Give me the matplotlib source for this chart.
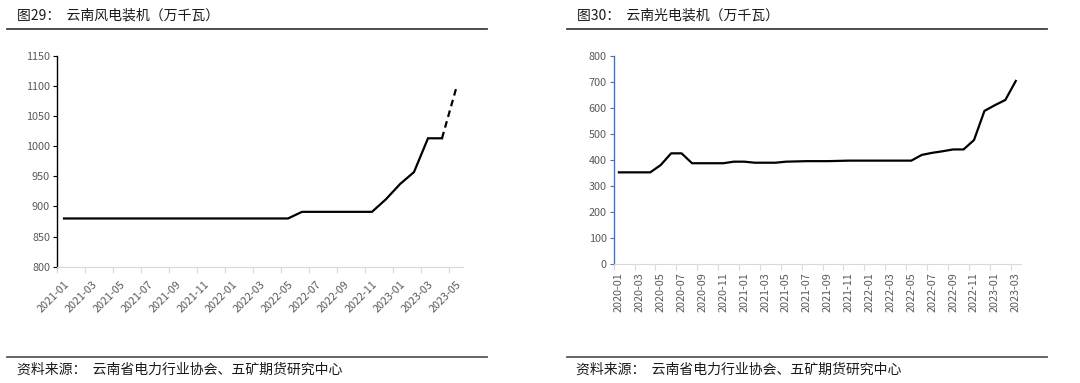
import matplotlib
matplotlib.use("Agg")
import matplotlib.pyplot as plt
from matplotlib.lines import Line2D

plt.rcParams['font.family'] = ['Noto Sans CJK SC', 'DejaVu Sans']

# ---------------- data ----------------
wind_months = [f"{y}-{m:02d}" for y in (2021, 2022, 2023) for m in range(1, 13)][:29]
wind_values = [880, 880, 880, 880, 880, 880, 880, 880, 880, 880, 880, 880,
               880, 880, 880, 880, 880, 891, 891, 891, 891, 891, 891, 912,
               937, 957, 1013, 1013, 1095]
wind_dashed_from = 27  # last segment is dashed (forecast)

solar_months = [f"{y}-{m:02d}" for y in (2020, 2021, 2022, 2023) for m in range(1, 13)][:39]
solar_values = [352, 352, 352, 352, 380, 425, 425, 387, 387, 387, 387, 393,
                393, 389, 389, 389, 393, 394, 395, 395, 395, 396, 397, 397,
                397, 397, 397, 397, 397, 419, 427, 433, 440, 440, 476, 588,
                610, 630, 703]

wind_title = "图29：  云南风电装机（万千瓦）"
solar_title = "图30：  云南光电装机（万千瓦）"
source_text = "资料来源：  云南省电力行业协会、五矿期货研究中心"

W, H = 1080, 383
fig = plt.figure(figsize=(W / 100, H / 100), dpi=100)

def box(x0, y0, x1, y1):
    return [x0 / W, 1 - y1 / H, (x1 - x0) / W, (y1 - y0) / H]

def hline(x0, x1, y, color, lw):
    fig.add_artist(Line2D([x0 / W, x1 / W], [1 - y / H, 1 - y / H],
                          color=color, lw=lw, transform=fig.transFigure))

tick_color = '#595959'
grey_axis = '#D9D9D9'
tick_fs = 7.8

def style_axes(ax, n, labels, ycolor, rotation):
    ax.set_xlim(-0.5, n - 0.5)
    for s in ('top', 'right'):
        ax.spines[s].set_visible(False)
    ax.spines['bottom'].set_color(grey_axis)
    ax.spines['left'].set_color(ycolor)
    ax.spines['left'].set_linewidth(1.0)
    major = [i - 0.5 for i in range(0, n, 2)]
    ax.set_xticks(major)
    ax.set_xticklabels([])
    ax.tick_params(axis='x', which='major', length=4, color=grey_axis, direction='out')
    minor = list(range(0, n, 2))
    ax.set_xticks(minor, minor=True)
    if rotation == 45:
        ax.set_xticklabels([labels[i] for i in minor], minor=True, rotation=45,
                           ha='right', va='top', rotation_mode='anchor',
                           fontsize=tick_fs, color=tick_color)
        ax.tick_params(axis='x', which='minor', length=0, pad=9)
    else:
        ax.set_xticklabels([labels[i] for i in minor], minor=True, rotation=90,
                           ha='center', va='top', fontsize=tick_fs, color=tick_color)
        ax.tick_params(axis='x', which='minor', length=0, pad=6)
    ax.tick_params(axis='y', length=3, color=ycolor, labelsize=tick_fs,
                   labelcolor=tick_color, pad=2)

# ---------------- left: wind ----------------
ax1 = fig.add_axes(box(57, 55.7, 463, 266.7))
x1 = list(range(len(wind_values)))
ax1.plot(x1[:wind_dashed_from + 1], wind_values[:wind_dashed_from + 1],
         color='black', lw=1.6, solid_joinstyle='miter')
ax1.plot(x1[wind_dashed_from:], wind_values[wind_dashed_from:],
         color='black', lw=1.6, ls=(0, (3, 2)))
ax1.set_ylim(800, 1150)
ax1.set_yticks(range(800, 1151, 50))
style_axes(ax1, len(wind_values), wind_months, '#000000', 45)

# ---------------- right: solar ----------------
ax2 = fig.add_axes(box(613.7, 55.7, 1021, 264))
x2 = list(range(len(solar_values)))
ax2.plot(x2, solar_values, color='black', lw=1.6)
ax2.set_ylim(0, 800)
ax2.set_yticks(range(0, 801, 100))
style_axes(ax2, len(solar_values), solar_months, '#4472C4', 90)

# ---------------- titles, rules, sources ----------------
fs_text = 10
fig.text(17 / W, 1 - 16 / H, wind_title, fontsize=fs_text, color='#1a1a1a', va='center', ha='left')
fig.text(577 / W, 1 - 16 / H, solar_title, fontsize=fs_text, color='#1a1a1a', va='center', ha='left')
hline(7, 487, 28.5, '#404040', 1.3)
hline(567, 1047, 28.5, '#404040', 1.3)
hline(7, 487, 356.5, '#595959', 1.3)
hline(567, 1047, 356.5, '#595959', 1.3)
fig.text(17 / W, 1 - 370 / H, source_text, fontsize=fs_text, color='#1a1a1a', va='center', ha='left')
fig.text(576 / W, 1 - 370 / H, source_text, fontsize=fs_text, color='#1a1a1a', va='center', ha='left')

fig.savefig("out.png", dpi=100)
